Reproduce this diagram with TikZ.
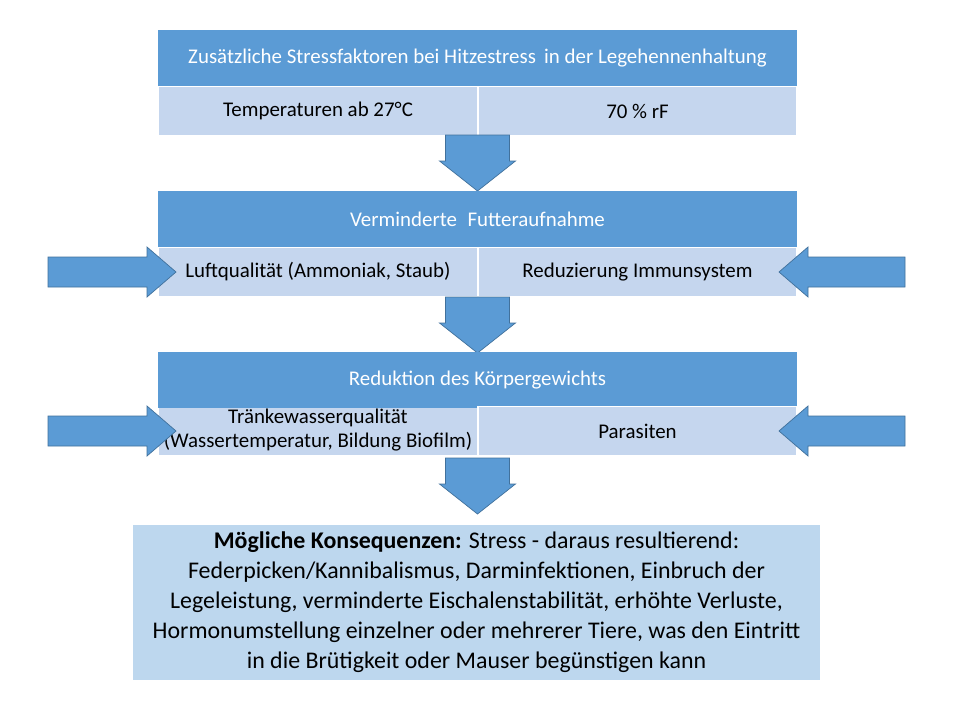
\documentclass[tikz,border=0pt]{standalone}
\usepackage{fontspec}
\setmainfont{Carlito}
\definecolor{head}{RGB}{91, 155, 213}
\definecolor{row}{RGB}{197, 214, 238}
\definecolor{boxc}{RGB}{189, 215, 238}
\definecolor{rim}{RGB}{65, 113, 156}

\tikzset{
  headbox/.style={fill=head, text=white, minimum width=639*0.02cm, minimum height=56*0.02cm, inner sep=0pt, font=\fontsize{11.9}{13}\selectfont},
  rowbox/.style={fill=row, draw=white, line width=0.8pt, minimum width=319*0.02cm, minimum height=49*0.02cm, inner sep=0pt, align=center, font=\fontsize{11.9}{13}\selectfont},
  arrowfill/.style={fill=head, draw=rim, line width=0.4pt}
}
% down arrow with top centre at (#1,#2)
\newcommand{\downarr}[2]{\draw[arrowfill] (#1-32,#2) -- (#1+32,#2) -- (#1+32,#2+26) -- (#1+38,#2+26) -- (#1,#2+56) -- (#1-38,#2+26) -- (#1-32,#2+26) -- cycle;}
% side arrow: tail x, tip x, centre y
\newcommand{\sidearr}[3]{\draw[arrowfill] (#1,#3-15) -- ({#2-(#2-#1)/abs(#2-#1)*29},#3-15) -- ({#2-(#2-#1)/abs(#2-#1)*29},#3-25) -- (#2,#3) -- ({#2-(#2-#1)/abs(#2-#1)*29},#3+25) -- ({#2-(#2-#1)/abs(#2-#1)*29},#3+15) -- (#1,#3+15) -- cycle;}

\begin{document}
\begin{tikzpicture}[x=0.02cm, y=-0.02cm]
  \useasboundingbox[fill=white] (0, 0) rectangle (960, 720);

  % first table
  \node[headbox] (h1) at (477.5, 58) {Zusätzliche Stressfaktoren bei Hitzestress\, in der Legehennenhaltung};
  \node[rowbox] (a1) at (318, 111) {Temperaturen ab 27°C};
  \node[rowbox] (b1) at (637.5, 111) {70 \% rF};

  \downarr{477.5}{135}

  % second table
  \node[headbox] (h2) at (477.5, 219) {Verminderte\; Futteraufnahme};
  \node[rowbox] (a2) at (318, 272) {Luftqualität (Ammoniak, Staub)};
  \node[rowbox] (b2) at (637.5, 272) {Reduzierung Immunsystem};
  \sidearr{48}{176}{272}
  \sidearr{905}{779}{272}

  \downarr{477.5}{297}

  % third table
  \node[rowbox] (a3) at (318, 431) {};
  \node[align=center, inner sep=0pt, font=\fontsize{11.9}{14}\selectfont] (t3) at (318, 430) {Tränkewasserqualität\\(Wassertemperatur, Bildung Biofilm)};
  \node[headbox] (h3) at (477.5, 380) {Reduktion des Körpergewichts};
  \node[rowbox] (b3) at (637.5, 431) {Parasiten};
  \sidearr{48}{176}{431}
  \sidearr{905}{779}{431}

  \downarr{477.5}{458}

  % consequences
  \node[fill=boxc, minimum width=687*0.02cm, minimum height=155*0.02cm, inner sep=0pt, align=center, font=\fontsize{13.6}{17}\selectfont] (k) at (476.5, 602)
    {\textbf{Mögliche Konsequenzen:} Stress - daraus resultierend:\\
     Federpicken/Kannibalismus, Darminfektionen, Einbruch der\\
     Legeleistung, verminderte Eischalenstabilität, erhöhte Verluste,\\
     Hormonumstellung einzelner oder mehrerer Tiere, was den Eintritt\\
     in die Brütigkeit oder Mauser begünstigen kann};
\end{tikzpicture}
\end{document}
